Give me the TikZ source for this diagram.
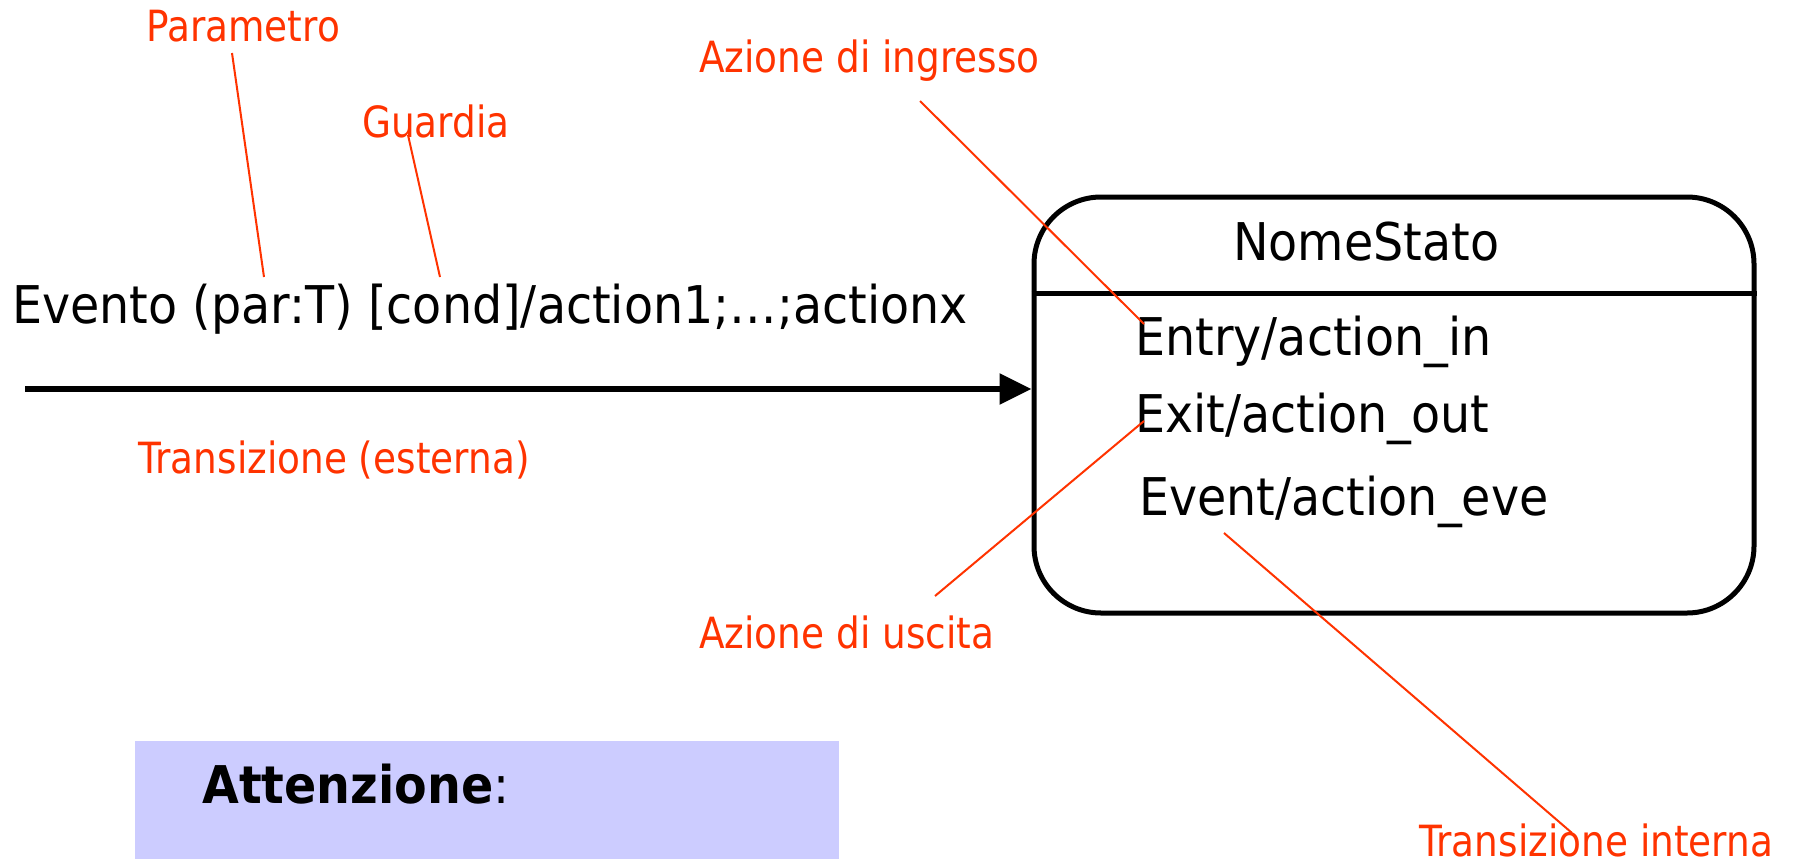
\documentclass[tikz,border=0pt]{standalone}
\usepackage{fontspec}
\setmainfont{DejaVu Sans}[FakeStretch=0.87]
\newfontfamily\blkfont{DejaVu Sans}[FakeStretch=0.915]
\usetikzlibrary{arrows.meta}
\definecolor{lab}{HTML}{FF3300}
\definecolor{att}{HTML}{CCCCFF}
\begin{document}
\begin{tikzpicture}[x=1pt,y=-1pt,
  big/.style={font=\blkfont\fontsize{52}{60}\selectfont, inner sep=0pt, anchor=base west},
  lbl/.style={font=\fontsize{43}{50}\selectfont, text=lab, inner sep=0pt, anchor=base west},
  lead/.style={draw=lab, line width=2pt},
  statebox/.style={draw, line width=5pt, rounded corners=67pt, inner sep=0pt,
    minimum width=720pt, minimum height=416pt}]
\useasboundingbox (0,0) rectangle (1793,859);
% attention box
\node[fill=att, inner sep=0pt, minimum width=704pt, minimum height=118pt, anchor=north west] (attbox) at (135,741) {};
\node[big] (att) at (202,803) {\textbf{Attenzione}:};
% state
\node[statebox] (state) at (1394,405) {};
\coordinate (divy) at (0,293);
\draw[line width=5pt] (state.west |- divy) -- (state.east |- divy);
\node[big] (name) at (1233,260) {NomeStato};
\node[big] (entry) at (1135,355) {Entry/action\_in};
\node[big] (exit) at (1135,432) {Exit/action\_out};
\node[big] (event) at (1139,515) {Event/action\_eve};
% transition
\node[big] (trig) at (12,323) {Evento (par:T) [cond]/action1;…;actionx};
\coordinate (tstart) at (25,389);
\draw[line width=5.5pt, -{Triangle[length=32pt,width=30pt]}] (tstart) -- (state.west |- tstart);
% labels
\node[lbl] (param) at (146,42) {Parametro};
\node[lbl] (guard) at (362,137) {Guardia};
\node[lbl] (ain) at (699,73) {Azione di ingresso};
\node[lbl] (text) at (138,473) {Transizione (esterna)};
\node[lbl] (aout) at (699,648) {Azione di uscita};
\node[lbl] (tint) at (1419,856) {Transizione interna};
% leader lines
\coordinate (p1) at (232,53);  \coordinate (p2) at (264,277);
\coordinate (g1) at (408,135); \coordinate (g2) at (440,277);
\coordinate (i1) at (920,101); \coordinate (i2) at (1144,324);
\coordinate (o1) at (1144,421); \coordinate (o2) at (935,596);
\coordinate (e1) at (1224,533); \coordinate (e2) at (1572,833);
\draw[lead] (p1) -- (p2);
\draw[lead] (g1) -- (g2);
\draw[lead] (i1) -- (i2);
\draw[lead] (o1) -- (o2);
\draw[lead] (e1) -- (e2);
\end{tikzpicture}
\end{document}
